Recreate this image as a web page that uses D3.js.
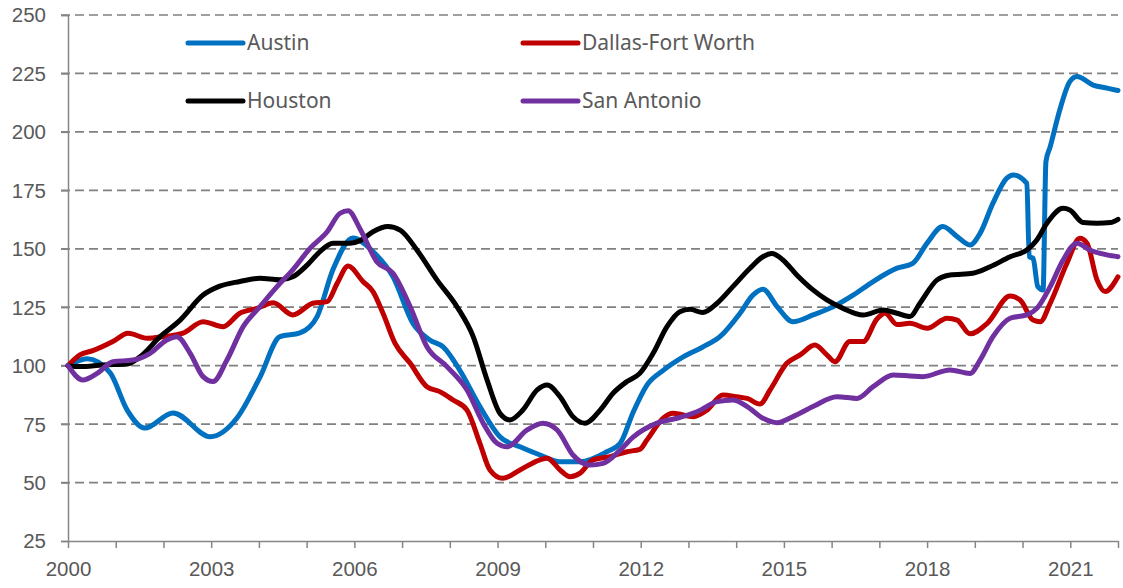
<!DOCTYPE html>
<html>
<head>
<meta charset="utf-8">
<script src="https://cdn.jsdelivr.net/npm/d3@7"></script>
<style>
  body { margin: 0; background: #fff; }
  svg { display: block; font-family: "Noto Sans", "Open Sans", sans-serif; }
  .tick text { fill: #595959; font-size: 20.5px; }
  .grid line { stroke: #808080; stroke-width: 1.7; stroke-dasharray: 9 5; }
  .series { fill: none; stroke-width: 5; stroke-linejoin: round; stroke-linecap: round; }
</style>
</head>
<body>
<div id="chart"></div>
<script>
// values, [year, index]
var austin = [
  [2000.00, 100], [2000.40, 103], [2000.88, 97], [2001.24, 81], [2001.61, 73.3],
  [2002.20, 79.8], [2002.98, 69.6], [2003.54, 77.6], [2004.02, 95], [2004.44, 112.4],
  [2004.86, 114], [2005.22, 121], [2005.55, 141], [2005.97, 154.6], [2006.39, 148.8],
  [2006.81, 138], [2007.23, 118], [2007.58, 111], [2007.86, 108], [2008.21, 98],
  [2008.63, 82.5], [2009.05, 69.6], [2009.47, 65.3], [2009.89, 61.8], [2010.31, 58.9],
  [2010.73, 58.9], [2011.29, 63.2], [2011.57, 66.8], [2011.84, 80], [2012.13, 91.7],
  [2012.47, 98], [2012.89, 103.8], [2013.30, 108], [2013.66, 112.4], [2014.08, 122.4],
  [2014.35, 130.2], [2014.56, 132.7], [2014.86, 125.2], [2015.19, 118.8], [2015.61, 121.7],
  [2016.03, 125.2], [2016.45, 130.2], [2016.87, 136], [2017.37, 141.7], [2017.70, 143.8],
  [2018.00, 152.4], [2018.33, 159.5], [2018.63, 155.2], [2018.90, 151.6], [2019.11, 156.6],
  [2019.38, 169.5], [2019.67, 180.2], [2019.80, 181.6], [2020.09, 178], [2020.14, 146.6],
  [2020.22, 146], [2020.32, 133.8], [2020.43, 132.4], [2020.49, 187.3], [2020.58, 193.7],
  [2020.78, 209.4], [2020.99, 221.5], [2021.14, 223.7], [2021.48, 220], [2021.77, 218.7],
  [2022.00, 217.7]
];

var dallas = [
  [2000.00, 100], [2000.25, 104.6], [2000.52, 106.4], [2000.94, 110.3], [2001.26, 113.9],
  [2001.66, 111.7], [2001.99, 112.4], [2002.41, 113.9], [2002.83, 118.8], [2003.25, 116.7],
  [2003.60, 122.4], [2003.96, 124.5], [2004.30, 126.9], [2004.71, 121.7], [2005.13, 126.7],
  [2005.43, 127.4], [2005.64, 135.2], [2005.87, 142.6], [2006.18, 136], [2006.39, 131.7],
  [2006.60, 122.4], [2006.85, 109.6], [2007.17, 101], [2007.52, 91], [2007.79, 88.9],
  [2008.07, 85.3], [2008.36, 81], [2008.63, 66.8], [2008.84, 55.4], [2009.11, 51.8],
  [2009.47, 55.4], [2009.89, 59.7], [2010.04, 60.4], [2010.31, 55.4], [2010.52, 52.5],
  [2010.73, 54], [2011.00, 59.7], [2011.36, 61.1], [2011.71, 63.2], [2011.98, 64.2],
  [2012.13, 68.2], [2012.47, 77.5], [2012.68, 79.6], [2013.10, 78.2], [2013.39, 81],
  [2013.72, 87.5], [2014.02, 86.7], [2014.23, 86], [2014.50, 83.6], [2014.71, 89.6],
  [2015.06, 101], [2015.34, 104.6], [2015.65, 108.8], [2015.90, 104.6], [2016.07, 101.7],
  [2016.38, 110.3], [2016.66, 110.3], [2016.95, 120], [2017.12, 122.4], [2017.37, 117.6],
  [2017.64, 118.1], [2018.00, 116], [2018.42, 120.3], [2018.63, 119.5], [2018.90, 113.6],
  [2019.26, 118.1], [2019.74, 129.8], [2019.95, 128.1], [2020.22, 119.5], [2020.37, 118.8],
  [2020.58, 126.7], [2020.93, 143.8], [2021.20, 154.5], [2021.35, 152.4], [2021.56, 136.7],
  [2021.73, 131.7], [2022.00, 138]
];

var houston = [
  [2000.00, 100], [2000.25, 99.6], [2000.73, 100.3], [2001.24, 100.7], [2001.51, 103.8],
  [2001.93, 112.4], [2002.35, 119.5], [2002.83, 130.2], [2003.18, 134], [2003.60, 136],
  [2004.02, 137.4], [2004.44, 136.7], [2004.71, 138], [2005.01, 143], [2005.28, 148.8],
  [2005.55, 152.4], [2005.91, 152.4], [2006.12, 153.5], [2006.39, 157.3], [2006.70, 159.5],
  [2006.96, 158], [2007.31, 149.5], [2007.73, 136.7], [2008.15, 125.2], [2008.49, 112.4],
  [2008.78, 93.9], [2009.05, 79.6], [2009.26, 76.8], [2009.53, 81], [2009.83, 89.6],
  [2010.04, 91.7], [2010.31, 86.7], [2010.58, 78.2], [2010.83, 75.4], [2011.15, 81],
  [2011.42, 88.2], [2011.71, 93.2], [2011.98, 96.7], [2012.26, 105.3], [2012.55, 116.7],
  [2012.82, 123.1], [2013.03, 124.1], [2013.30, 122.7], [2013.60, 126.7], [2013.93, 133.8],
  [2014.29, 141.7], [2014.56, 146.6], [2014.75, 148], [2014.98, 145.2], [2015.27, 138.8],
  [2015.61, 132.4], [2015.90, 128.1], [2016.24, 124.5], [2016.66, 121.7], [2017.08, 123.8],
  [2017.37, 122.4], [2017.64, 121], [2017.85, 126.7], [2018.21, 136.7], [2018.48, 138.8],
  [2018.96, 139.5], [2019.32, 142.3], [2019.74, 146.6], [2020.09, 149.5], [2020.30, 153.8],
  [2020.51, 160.9], [2020.85, 167.3], [2020.99, 166.6], [2021.27, 161.2], [2021.56, 160.9],
  [2021.84, 161.2], [2022.00, 162.6]
];

var sanAntonio = [
  [2000.00, 100], [2000.31, 93.9], [2000.61, 96.7], [2000.94, 101.7], [2001.36, 102.4],
  [2001.72, 105.3], [2002.07, 111], [2002.28, 112.4], [2002.56, 105.3], [2002.83, 95.3],
  [2003.04, 93.2], [2003.33, 102.4], [2003.67, 116.7], [2004.02, 125.2], [2004.38, 133.8],
  [2004.71, 141], [2005.07, 150.2], [2005.43, 157.3], [2005.70, 165.2], [2005.87, 166.3],
  [2006.12, 158.5], [2006.47, 144.5], [2006.81, 139.5], [2007.17, 125.2], [2007.52, 108.1],
  [2007.94, 99.6], [2008.36, 89.6], [2008.70, 75.4], [2008.99, 66.8], [2009.20, 65.3],
  [2009.62, 72.5], [2009.95, 75.4], [2010.25, 72.5], [2010.58, 61.8], [2010.94, 57.5],
  [2011.21, 58.2], [2011.57, 63.9], [2011.84, 69.4], [2012.34, 75.4], [2012.76, 77.5],
  [2013.18, 80.3], [2013.60, 84.6], [2013.93, 85.3], [2014.23, 82.5], [2014.56, 77.5],
  [2014.86, 75.6], [2015.19, 78.2], [2015.61, 82.5], [2016.11, 86.7], [2016.53, 86],
  [2016.87, 91], [2017.29, 96], [2017.64, 95.6], [2017.91, 95.3], [2018.48, 98.2],
  [2018.90, 96.7], [2019.11, 102.4], [2019.38, 112.4], [2019.74, 120.3], [2020.09, 121.7],
  [2020.30, 124.5], [2020.58, 133.8], [2020.85, 145.2], [2021.14, 152.4], [2021.41, 149.5],
  [2021.77, 147.4], [2022.00, 146.6]
];

var seriesNames = ['Austin', 'Dallas-Fort Worth', 'Houston', 'San Antonio'];
var seriesColors = ['#0070c0', '#c00000', '#000000', '#7030a0'];
var seriesData = [austin, dallas, houston, sanAntonio];

var yTicks = [25, 50, 75, 100, 125, 150, 175, 200, 225, 250];
var xLabelYears = [2000, 2003, 2006, 2009, 2012, 2015, 2018, 2021];

// chart frame
var width = 1123, height = 588;
var margin = { top: 15, right: 5, bottom: 47, left: 68 };
var innerW = width - margin.left - margin.right;
var innerH = height - margin.top - margin.bottom;

var x = d3.scaleLinear().domain([2000, 2022]).range([0, innerW]);
var y = d3.scaleLinear().domain([25, 250]).range([innerH, 0]);

var svg = d3.select('#chart')
  .append('svg')
  .attr('width', width)
  .attr('height', height)
  .append('g')
  .attr('transform', 'translate(' + margin.left + ',' + margin.top + ')');

// dashed gridlines with the left tick
svg.append('g')
  .attr('class', 'grid')
  .selectAll('line')
  .data(yTicks.filter(function(d) { return d > 25; }))
  .enter().append('line')
  .attr('x1', -7)
  .attr('x2', innerW)
  .attr('y1', function(d) { return y(d); })
  .attr('y2', function(d) { return y(d); });

// y axis
var yAxis = svg.append('g')
  .call(d3.axisLeft(y).tickValues(yTicks).tickSize(7).tickPadding(15));
yAxis.select('.domain').attr('stroke', '#868686').attr('stroke-width', 1.5);
yAxis.selectAll('.tick line').attr('stroke', '#868686').attr('stroke-width', 1.5);
yAxis.selectAll('.tick text').attr('dy', '0.34em');

// x axis, a tick every year, a label every three
var xAxis = svg.append('g')
  .attr('transform', 'translate(0,' + innerH + ')')
  .call(d3.axisBottom(x)
    .tickValues(d3.range(2000, 2023))
    .tickSize(7)
    .tickSizeOuter(0)
    .tickPadding(13)
    .tickFormat(function(d) { return xLabelYears.indexOf(d) >= 0 ? d : ''; }));
xAxis.select('.domain').attr('stroke', '#868686').attr('stroke-width', 1.5);
xAxis.selectAll('.tick line').attr('stroke', '#868686').attr('stroke-width', 1.5);

// lines
var line = d3.line()
  .x(function(d) { return x(d[0]); })
  .y(function(d) { return y(d[1]); })
  .curve(d3.curveMonotoneX);

svg.selectAll('path.series')
  .data(seriesData)
  .enter().append('path')
  .attr('class', 'series')
  .attr('stroke', function(d, i) { return seriesColors[i]; })
  .attr('d', line);

// legend
var legendPos = [[120, 28], [455, 28], [120, 86], [455, 86]];
var legend = svg.selectAll('g.legend')
  .data(seriesNames)
  .enter().append('g')
  .attr('class', 'legend')
  .attr('transform', function(d, i) {
    return 'translate(' + legendPos[i][0] + ',' + legendPos[i][1] + ')';
  });

legend.append('line')
  .attr('x1', 0)
  .attr('x2', 55)
  .attr('stroke', function(d, i) { return seriesColors[i]; })
  .attr('stroke-width', 5)
  .attr('stroke-linecap', 'round');

legend.append('text')
  .attr('x', 59)
  .attr('dy', '0.35em')
  .attr('fill', '#595959')
  .style('font-size', '21px')
  .text(function(d) { return d; });
</script>
</body>
</html>
